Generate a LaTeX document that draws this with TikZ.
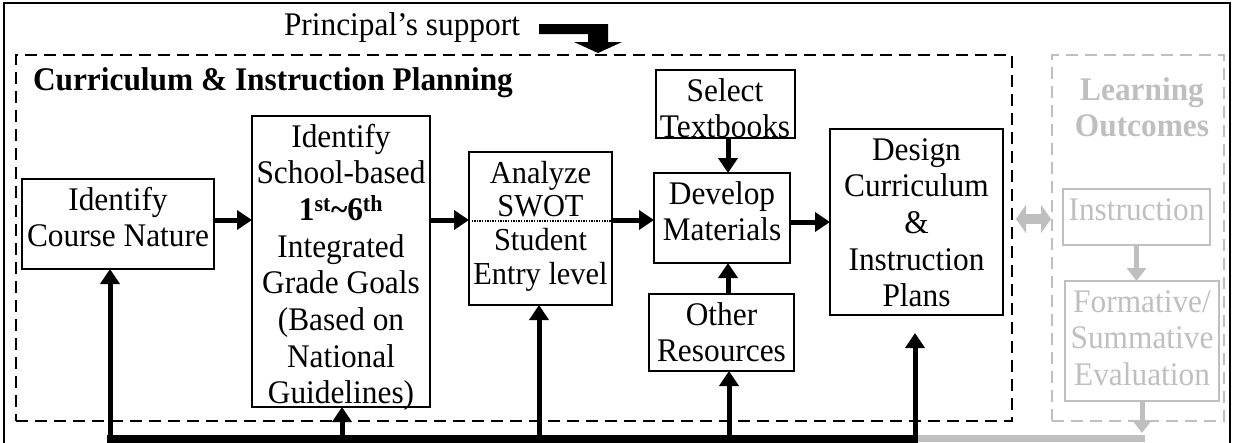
\documentclass[tikz,border=0pt]{standalone}
\usepackage{fontspec}
\setmainfont[FakeStretch=0.95]{Liberation Serif}
\usetikzlibrary{arrows.meta}
\definecolor{fade}{RGB}{191,191,191}
% text block of a box: fixed size, lines start at the top
\newcommand\cellbody[3]{\parbox[c][#2][t]{#1}{\centering\rule{0pt}{31pt}#3}}
\begin{document}
\begin{tikzpicture}[x=1pt,y=-1pt,
  font=\fontsize{33}{36.7}\selectfont,
  every node/.style={inner sep=0pt, outer sep=0pt},
  stepbox/.style={draw, line width=2pt},
  fadebox/.style={draw=fade, text=fade, line width=2pt},
  frame/.style={line width=1.6pt, dash pattern=on 12pt off 7pt},
  flow/.style={line width=5pt, -{Triangle[length=15pt,width=19pt]}},
  fadeflow/.style={draw=fade, line width=5pt, -{Triangle[length=13pt,width=19pt]}},
  bus/.style={line width=8pt}
]
\useasboundingbox (0,0) rectangle (1233,442);
% outer frame
\draw[line width=2pt] (4,3) rectangle (1230,470);

% principal's support and its bent block arrow
\node[anchor=base] (support) at (402,35) {Principal’s support};
\coordinate (pa) at (539,24);
\fill (pa) -- ++(69,0) -- ++(0,18) -- ++(14,0) -- ++(-24,11) -- ++(-24,-11)
  -- ++(14,0) -- ++(0,-8) -- ++(-49,0) -- cycle;

% planning area
\node[frame, draw=black, minimum width=996pt, minimum height=366pt] (plan) at (514,238) {};
\node[anchor=base west, font=\fontsize{33}{36.7}\selectfont\bfseries] (title) at (33,90)
  {Curriculum \& Instruction Planning};

\node[stepbox] (course) at (118,224) {\cellbody{192pt}{90pt}{Identify\\Course Nature}};
\node[stepbox] (school) at (341,261.5) {\cellbody{178pt}{291pt}{Identify\\School-based\\
  \textbf{1\textsuperscript{st}\textasciitilde6\textsuperscript{th}}\\Integrated\\Grade Goals\\
  (Based on\\National\\Guidelines)}};
\node[stepbox, font=\fontsize{32}{33.7}\selectfont] (analyze) at (540.5,228.5)
  {\cellbody{143pt}{153pt}{Analyze\\SWOT\\Student\\Entry level}};
\draw[line width=1.3pt, dash pattern=on 1.3pt off 1.3pt]
  ([yshift=7.5pt]analyze.west) -- ([yshift=7.5pt]analyze.east);
\node[stepbox] (select) at (725,104) {\cellbody{139pt}{68pt}{Select\\Textbooks}};
\node[stepbox] (develop) at (722,218) {\cellbody{136pt}{90pt}{Develop\\Materials}};
\node[stepbox] (other) at (721.5,332.5) {\cellbody{145pt}{77pt}{Other\\Resources}};
\node[stepbox] (design) at (916.5,222) {\cellbody{173pt}{186pt}{Design\\Curriculum\\\&\\Instruction\\Plans}};

% learning outcomes area
\node[frame, draw=fade, minimum width=172pt, minimum height=366pt] (outcomes) at (1138,238) {};
\node[anchor=north, text=fade, font=\fontsize{33}{36.7}\selectfont\bfseries] (lotitle) at (1142,69)
  {\cellbody{170pt}{75pt}{Learning\\Outcomes}};
\node[fadebox] (instruction) at (1136.5,217) {\cellbody{147pt}{56pt}{Instruction}};
\node[fadebox] (formative) at (1142,341) {\cellbody{154pt}{120pt}{Formative/\\Summative\\Evaluation}};

% main flow
\coordinate (row) at (0,220);
\draw[flow] (course.east |- row) -- (school.west |- row);
\draw[flow] (school.east |- row) -- (analyze.west |- row);
\draw[flow] (analyze.east |- row) -- (develop.west |- row);
\draw[flow] (develop.east |- design.west) -- (design.west);
\coordinate (feed) at (728,0);
\draw[flow] (feed |- select.south) -- (feed |- develop.north);
\draw[flow] (feed |- other.north) -- (feed |- develop.south);

% link between planning and outcomes
\coordinate (mid) at (0,219);
\draw[draw=fade, line width=10pt,
  {Triangle[length=10pt,width=28pt]}-{Triangle[length=10pt,width=28pt]},
  shorten <=4pt, shorten >=1pt] (plan.east |- mid) -- (outcomes.west |- mid);
\draw[fadeflow] (instruction.south) -- (instruction.south |- formative.north);

% feedback bus along the bottom
\coordinate (tapA) at (110,438.5);
\coordinate (tapB) at (342,438.5);
\coordinate (tapC) at (539,438.5);
\coordinate (tapD) at (729,438.5);
\coordinate (tapE) at (915,438.5);
\coordinate (tapF) at (1142,438.5);
\draw[draw=fade, line width=7pt] ([xshift=3pt]tapE) -- ([xshift=3pt]tapF);
\draw[fadeflow] (formative.south -| tapF) -- ([yshift=5.5pt]tapF);
\draw[bus] ([xshift=-3pt]tapA) -- ([xshift=3pt]tapE);
\draw[flow] (tapA) -- (tapA |- course.south);
\draw[flow] (tapB) -- (tapB |- school.south);
\draw[flow] (tapC) -- (tapC |- analyze.south);
\draw[flow] (tapD) -- (tapD |- other.south);
\draw[flow, shorten >=18pt] (tapE) -- (tapE |- design.south);
\end{tikzpicture}
\end{document}
